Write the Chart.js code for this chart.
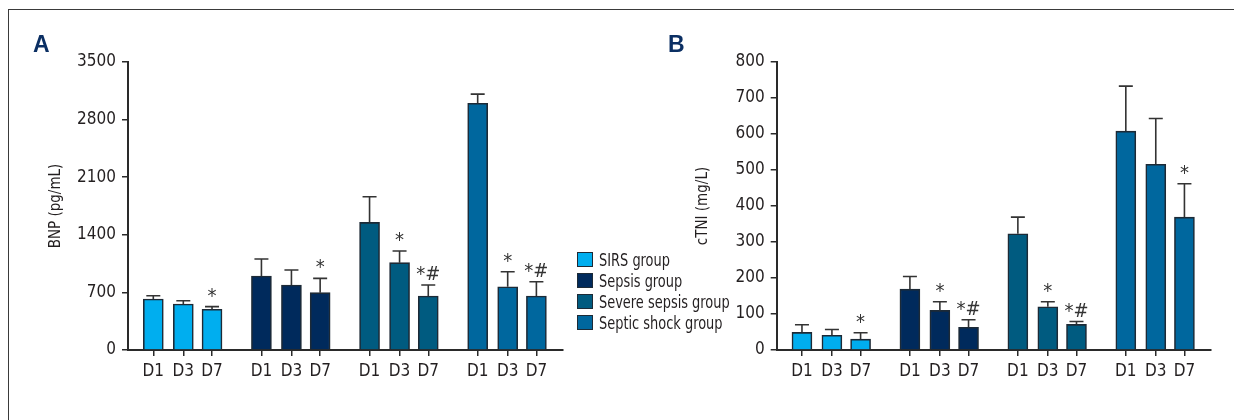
<!DOCTYPE html>
<html>
<head>
<meta charset="utf-8">
<script src="https://cdn.jsdelivr.net/npm/chart.js@4.4.1/dist/chart.umd.min.js"></script>
<style>
html,body{margin:0;padding:0;background:#fff;}
#wrap{position:relative;width:1234px;height:420px;overflow:hidden;background:#fff;
  font-family:'Liberation Sans Narrow','DejaVu Sans Condensed',sans-serif;color:#231f20;}
canvas.cv{position:absolute;left:0;top:0;}
#frame{position:absolute;left:8px;top:9px;width:1300px;height:500px;border-left:1.5px solid #3a3a3a;border-top:1.5px solid #3a3a3a;}
.panel{position:absolute;font-family:'Liberation Sans',Arial,sans-serif;font-weight:bold;font-size:23px;line-height:23px;color:#0b2f63;}
#legend{position:absolute;left:577px;top:249px;}
.li{height:21px;display:flex;align-items:center;white-space:nowrap;}
.sw{width:14px;height:13px;border:1.5px solid #1d2a36;box-sizing:content-box;flex:none;}
.lt{margin-left:6px;font-size:18px;color:#231f20;display:inline-block;transform:scaleX(0.8);transform-origin:left center;}
</style>
</head>
<body>
<div id="wrap">
  <div id="frame"></div>
  <canvas id="cA" class="cv" width="1234" height="420"></canvas>
  <canvas id="cB" class="cv" width="1234" height="420"></canvas>
  <div class="panel" style="left:33px;top:33px;">A</div>
  <div class="panel" style="left:668px;top:33px;">B</div>
  <div id="legend"></div>
</div>
<script>
// ---- data ----
const days = ['D1', 'D3', 'D7'];
const groups = ['SIRS group', 'Sepsis group', 'Severe sepsis group', 'Septic shock group'];
const groupColors = ['#00aeef', '#002a5c', '#005b80', '#00679e'];

// BNP (pg/mL), ordered group by group, D1/D3/D7
const bnpMean = [620, 559, 494, 899, 790, 697, 1551, 1061, 656, 2998, 769, 656];
const bnpSD   = [40, 40, 33, 207, 182, 174, 312, 142, 134, 112, 182, 174];
const bnpMarks = ['', '', '*', '', '', '*', '', '*', '*#', '', '*', '*#'];
const bnpTicks = [0, 700, 1400, 2100, 2800, 3500];

// cTNI (mg/L)
const tniMean = [49, 41, 30, 169, 110, 63, 323, 120, 71, 608, 516, 369];
const tniSD   = [21, 16, 18, 35, 24, 21, 46, 14, 8, 125, 127, 93];
const tniMarks = ['', '', '*', '', '*', '*#', '', '*', '*#', '', '', '*'];
const tniTicks = [0, 100, 200, 300, 400, 500, 600, 700, 800];

// ---- layout (positions on the linear x scale) ----
const GROUP_PITCH = 108.1;
const DAY_OFFSET = [0, 30, 58.7];
function xPos(g, d) { return g * GROUP_PITCH + DAY_OFFSET[d]; }
const xTickVals = [];
groups.forEach((g, gi) => days.forEach((d, di) => xTickVals.push(xPos(gi, di))));

const INK = '#231f20';
const AX = '#2a2a2a';
const FAM = "'Liberation Sans Narrow','DejaVu Sans Condensed',sans-serif";
const tickFontY = {family: FAM, size: 17};
const tickFontX = {family: FAM, size: 17};
const titleFont = {family: FAM, size: 15};

function errPlugin(sd, marks) {
  return {
    id: 'errbars',
    afterDatasetsDraw(chart) {
      const ctx = chart.ctx;
      const y = chart.scales.y;
      ctx.save();
      chart.data.datasets.forEach((ds, gi) => {
        const meta = chart.getDatasetMeta(gi);
        meta.data.forEach((bar, di) => {
          const k = gi * 3 + di;
          const topPx = y.getPixelForValue(ds.data[di].y + sd[k]);
          ctx.strokeStyle = '#333';
          ctx.lineWidth = 1.6;
          ctx.beginPath();
          ctx.moveTo(bar.x, bar.y);
          ctx.lineTo(bar.x, topPx);
          ctx.moveTo(bar.x - 7, topPx);
          ctx.lineTo(bar.x + 7, topPx);
          ctx.stroke();
          if (marks[k]) {
            ctx.fillStyle = '#333';
            ctx.font = "20px " + FAM;
            ctx.textAlign = 'center';
            ctx.textBaseline = 'alphabetic';
            ctx.fillText(marks[k], bar.x, topPx - 5);
          }
        });
      });
      ctx.restore();
    }
  };
}

function makeChart(id, mean, sd, marks, yTicks, yTitle, padLeft, yWidth, padRight) {
  const datasets = groups.map((g, gi) => ({
    label: g,
    data: days.map((d, di) => ({x: xPos(gi, di), y: mean[gi * 3 + di]})),
    backgroundColor: groupColors[gi],
    borderColor: '#1d2a36',
    borderWidth: 1.6,
    borderSkipped: 'bottom',
    barThickness: 20,
    grouped: false
  }));
  return new Chart(document.getElementById(id), {
    type: 'bar',
    data: {datasets},
    options: {
      responsive: false,
      animation: false,
      devicePixelRatio: 1,
      layout: {padding: {left: padLeft, right: padRight, top: 62, bottom: 30}},
      plugins: {legend: {display: false}, tooltip: {enabled: false}},
      scales: {
        x: {
          type: 'linear',
          offset: false,
          min: -25.3,
          max: 409.3,
          afterFit(s) { s.height = 40; },
          afterBuildTicks(s) { s.ticks = xTickVals.map(v => ({value: v})); },
          ticks: {autoSkip: false, maxRotation: 0, color: INK, font: tickFontX, padding: 5,
                  callback: (v, i) => days[i % 3]},
          grid: {offset: false, drawOnChartArea: false, drawTicks: true, tickLength: 6, color: AX, lineWidth: 1.5},
          border: {display: true, color: AX, width: 2}
        },
        y: {
          min: yTicks[0],
          max: yTicks[yTicks.length - 1],
          afterFit(s) { s.width = yWidth; },
          afterBuildTicks(s) { s.ticks = yTicks.map(v => ({value: v})); },
          ticks: {color: INK, font: tickFontY, padding: 6, callback: v => String(v)},
          grid: {drawOnChartArea: false, drawTicks: true, tickLength: 6, color: AX, lineWidth: 1.5},
          border: {display: true, color: AX, width: 2},
          title: {display: true, text: yTitle, color: INK, font: titleFont, padding: 0}
        }
      }
    },
    plugins: [errPlugin(sd, marks)]
  });
}

makeChart('cA', bnpMean, bnpSD, bnpMarks, bnpTicks, 'BNP (pg/mL)', 47, 81, 671.3);
makeChart('cB', tniMean, tniSD, tniMarks, tniTicks, 'cTNI (mg/L)', 694.4, 82.3, 23.3);

// legend
const leg = document.getElementById('legend');
groups.forEach((g, gi) => {
  const row = document.createElement('div');
  row.className = 'li';
  const sw = document.createElement('div');
  sw.className = 'sw';
  sw.style.background = groupColors[gi];
  const t = document.createElement('span');
  t.className = 'lt';
  t.textContent = g;
  row.appendChild(sw);
  row.appendChild(t);
  leg.appendChild(row);
});
</script>
</body>
</html>
